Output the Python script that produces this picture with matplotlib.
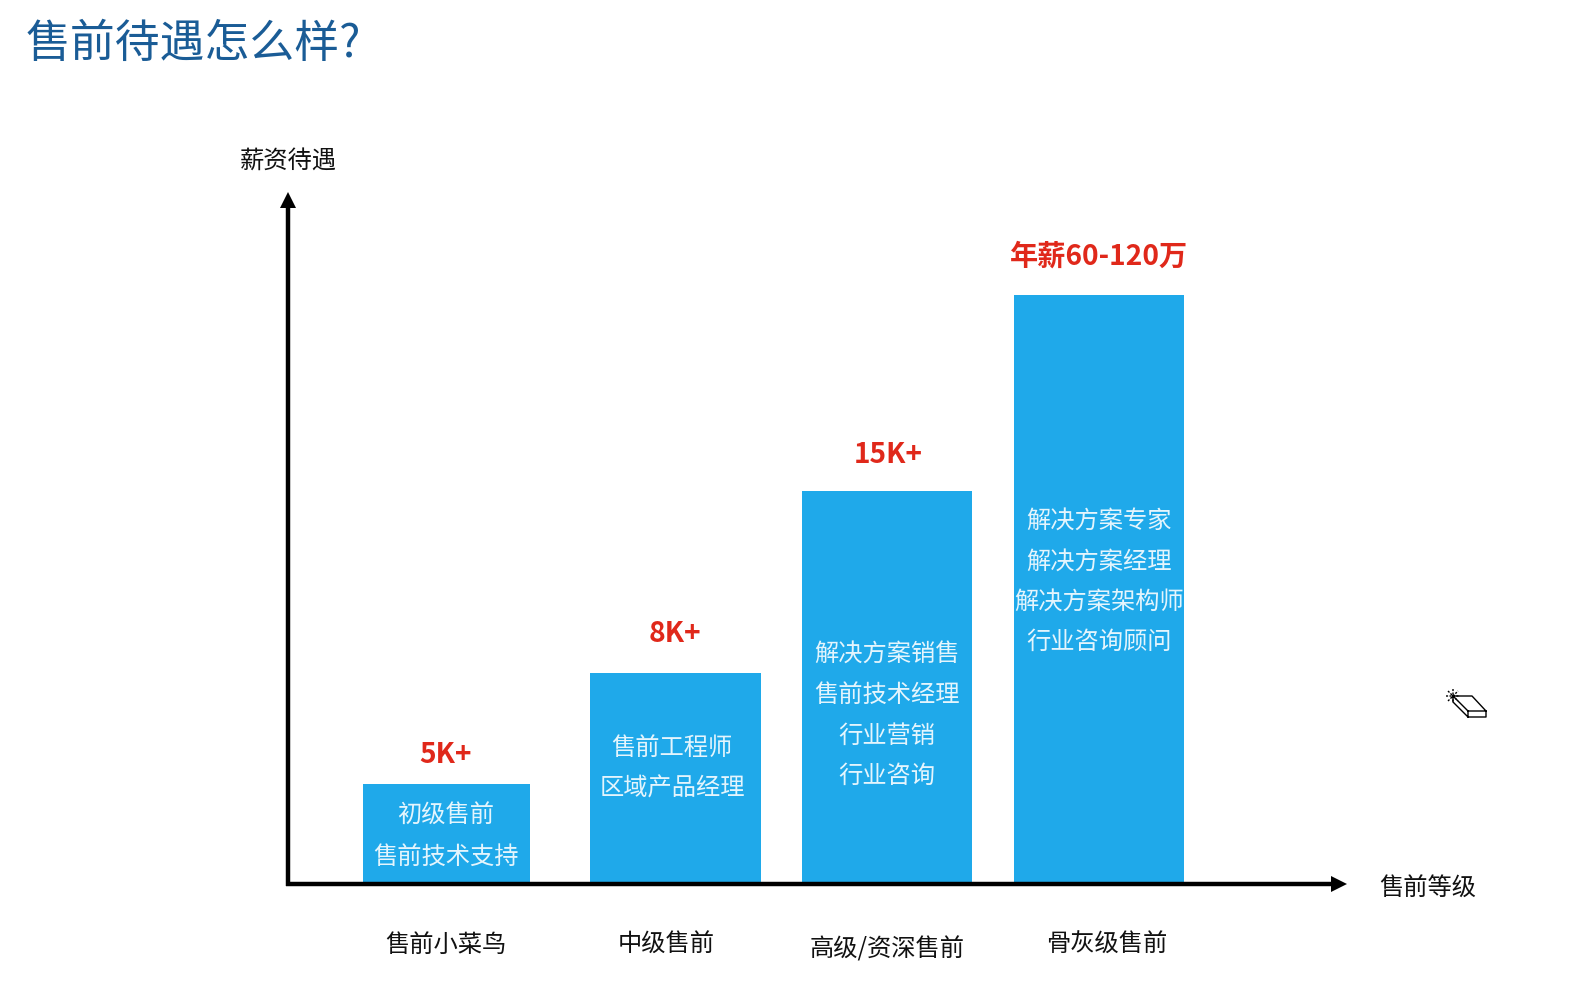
#!/usr/bin/python3
"""Pre-sales salary levels, drawn as a stepped bar chart"""

import matplotlib
matplotlib.use('Agg')
from matplotlib import pyplot as plt

plt.rcParams['font.family'] = ['Noto Sans CJK SC', 'DejaVu Sans']

WIDTH = 1593
HEIGHT = 1003
BASE = 884  # pixel row of the x axis

levels = ['售前小菜鸟', '中级售前', '高级/资深售前', '骨灰级售前']
salaries = ['5K+', '8K+', '15K+', '年薪60-120万']
# schematic heights, the source chart is not to scale
bar_heights = [99, 210, 392, 588]
bar_lefts = [363, 590, 802, 1014]
bar_widths = [167, 171, 170, 170]
roles = [
    ['初级售前', '售前技术支持'],
    ['售前工程师', '区域产品经理'],
    ['解决方案销售', '售前技术经理', '行业营销', '行业咨询'],
    ['解决方案专家', '解决方案经理', '解决方案架构师', '行业咨询顾问'],
]

BLUE = '#1fa9ea'
RED = '#e0281a'
TITLE = '#1a5c96'

fig = plt.figure(figsize=(WIDTH / 100, HEIGHT / 100), dpi=100)
ax = fig.add_axes([0, 0, 1, 1])
ax.set_xlim(0, WIDTH)
ax.set_ylim(BASE - HEIGHT, BASE)
ax.axis('off')


def row(pixel_y):
    """Pixel row from the top to data y"""
    return BASE - pixel_y


ax.bar(bar_lefts, bar_heights, width=bar_widths, align='edge', color=BLUE, zorder=1)

# axes with arrow heads
ax.plot([288, 288], [row(887), row(203)], color='black', lw=3.2, solid_capstyle='butt', zorder=3)
ax.plot([286, 1335], [row(885), row(885)], color='black', lw=3.2, solid_capstyle='butt', zorder=3)
ax.plot(288, row(201), marker='^', ms=11.5, color='black', mew=0, zorder=3)
ax.plot(1339, row(885), marker='>', ms=11.5, color='black', mew=0, zorder=3)

ax.text(26, row(44), '售前待遇怎么样?', fontsize=32.3, color=TITLE, va='center', ha='left')
ax.text(288, row(161), '薪资待遇', fontsize=17.5, color='#111111', va='center', ha='center')
ax.text(1428, row(889), '售前等级', fontsize=17.5, color='#111111', va='center', ha='center')

# category labels sit a little unevenly in the source
label_x = [446, 666, 887, 1107]
label_y = [945, 945, 950, 945]
for x, y, text in zip(label_x, label_y, levels):
    ax.text(x, row(y), text, fontsize=17.5, color='#111111', va='center', ha='center')

salary_x = [446, 675, 888, 1099]
salary_y = [755, 634, 455, 257]
for x, y, text in zip(salary_x, salary_y, salaries):
    ax.text(x, row(y), text, fontsize=20.3, fontweight='bold', color=RED, va='center', ha='center')

role_x = [446, 672, 887, 1099]
role_top = [816, 748, 655, 521]
for x, top, lines in zip(role_x, role_top, roles):
    for i, text in enumerate(lines):
        ax.text(x, row(top + i * 40.4), text, fontsize=17.5, color='#e4f5fd',
                va='center', ha='center')

# eraser cursor left in the screenshot
eraser_x = [1453, 1472, 1486, 1486, 1468, 1453, 1453, None, 1453, 1468, 1468, None, 1468, 1486]
eraser_y = [697, 697, 712, 718, 718, 703, 697, None, 697, 712, 718, None, 712, 712]
ax.plot(eraser_x, [row(y) if y is not None else None for y in eraser_y], color='black', lw=1)
spark_x = [1446, 1460, None, 1453, 1453, None, 1448, 1458, None, 1448, 1458]
spark_y = [697, 697, None, 690, 704, None, 692, 702, None, 702, 692]
ax.plot(spark_x, [row(y) if y is not None else None for y in spark_y],
        color='black', lw=1, ls=(0, (1.5, 1)))

plt.savefig('out.png', dpi=100)
